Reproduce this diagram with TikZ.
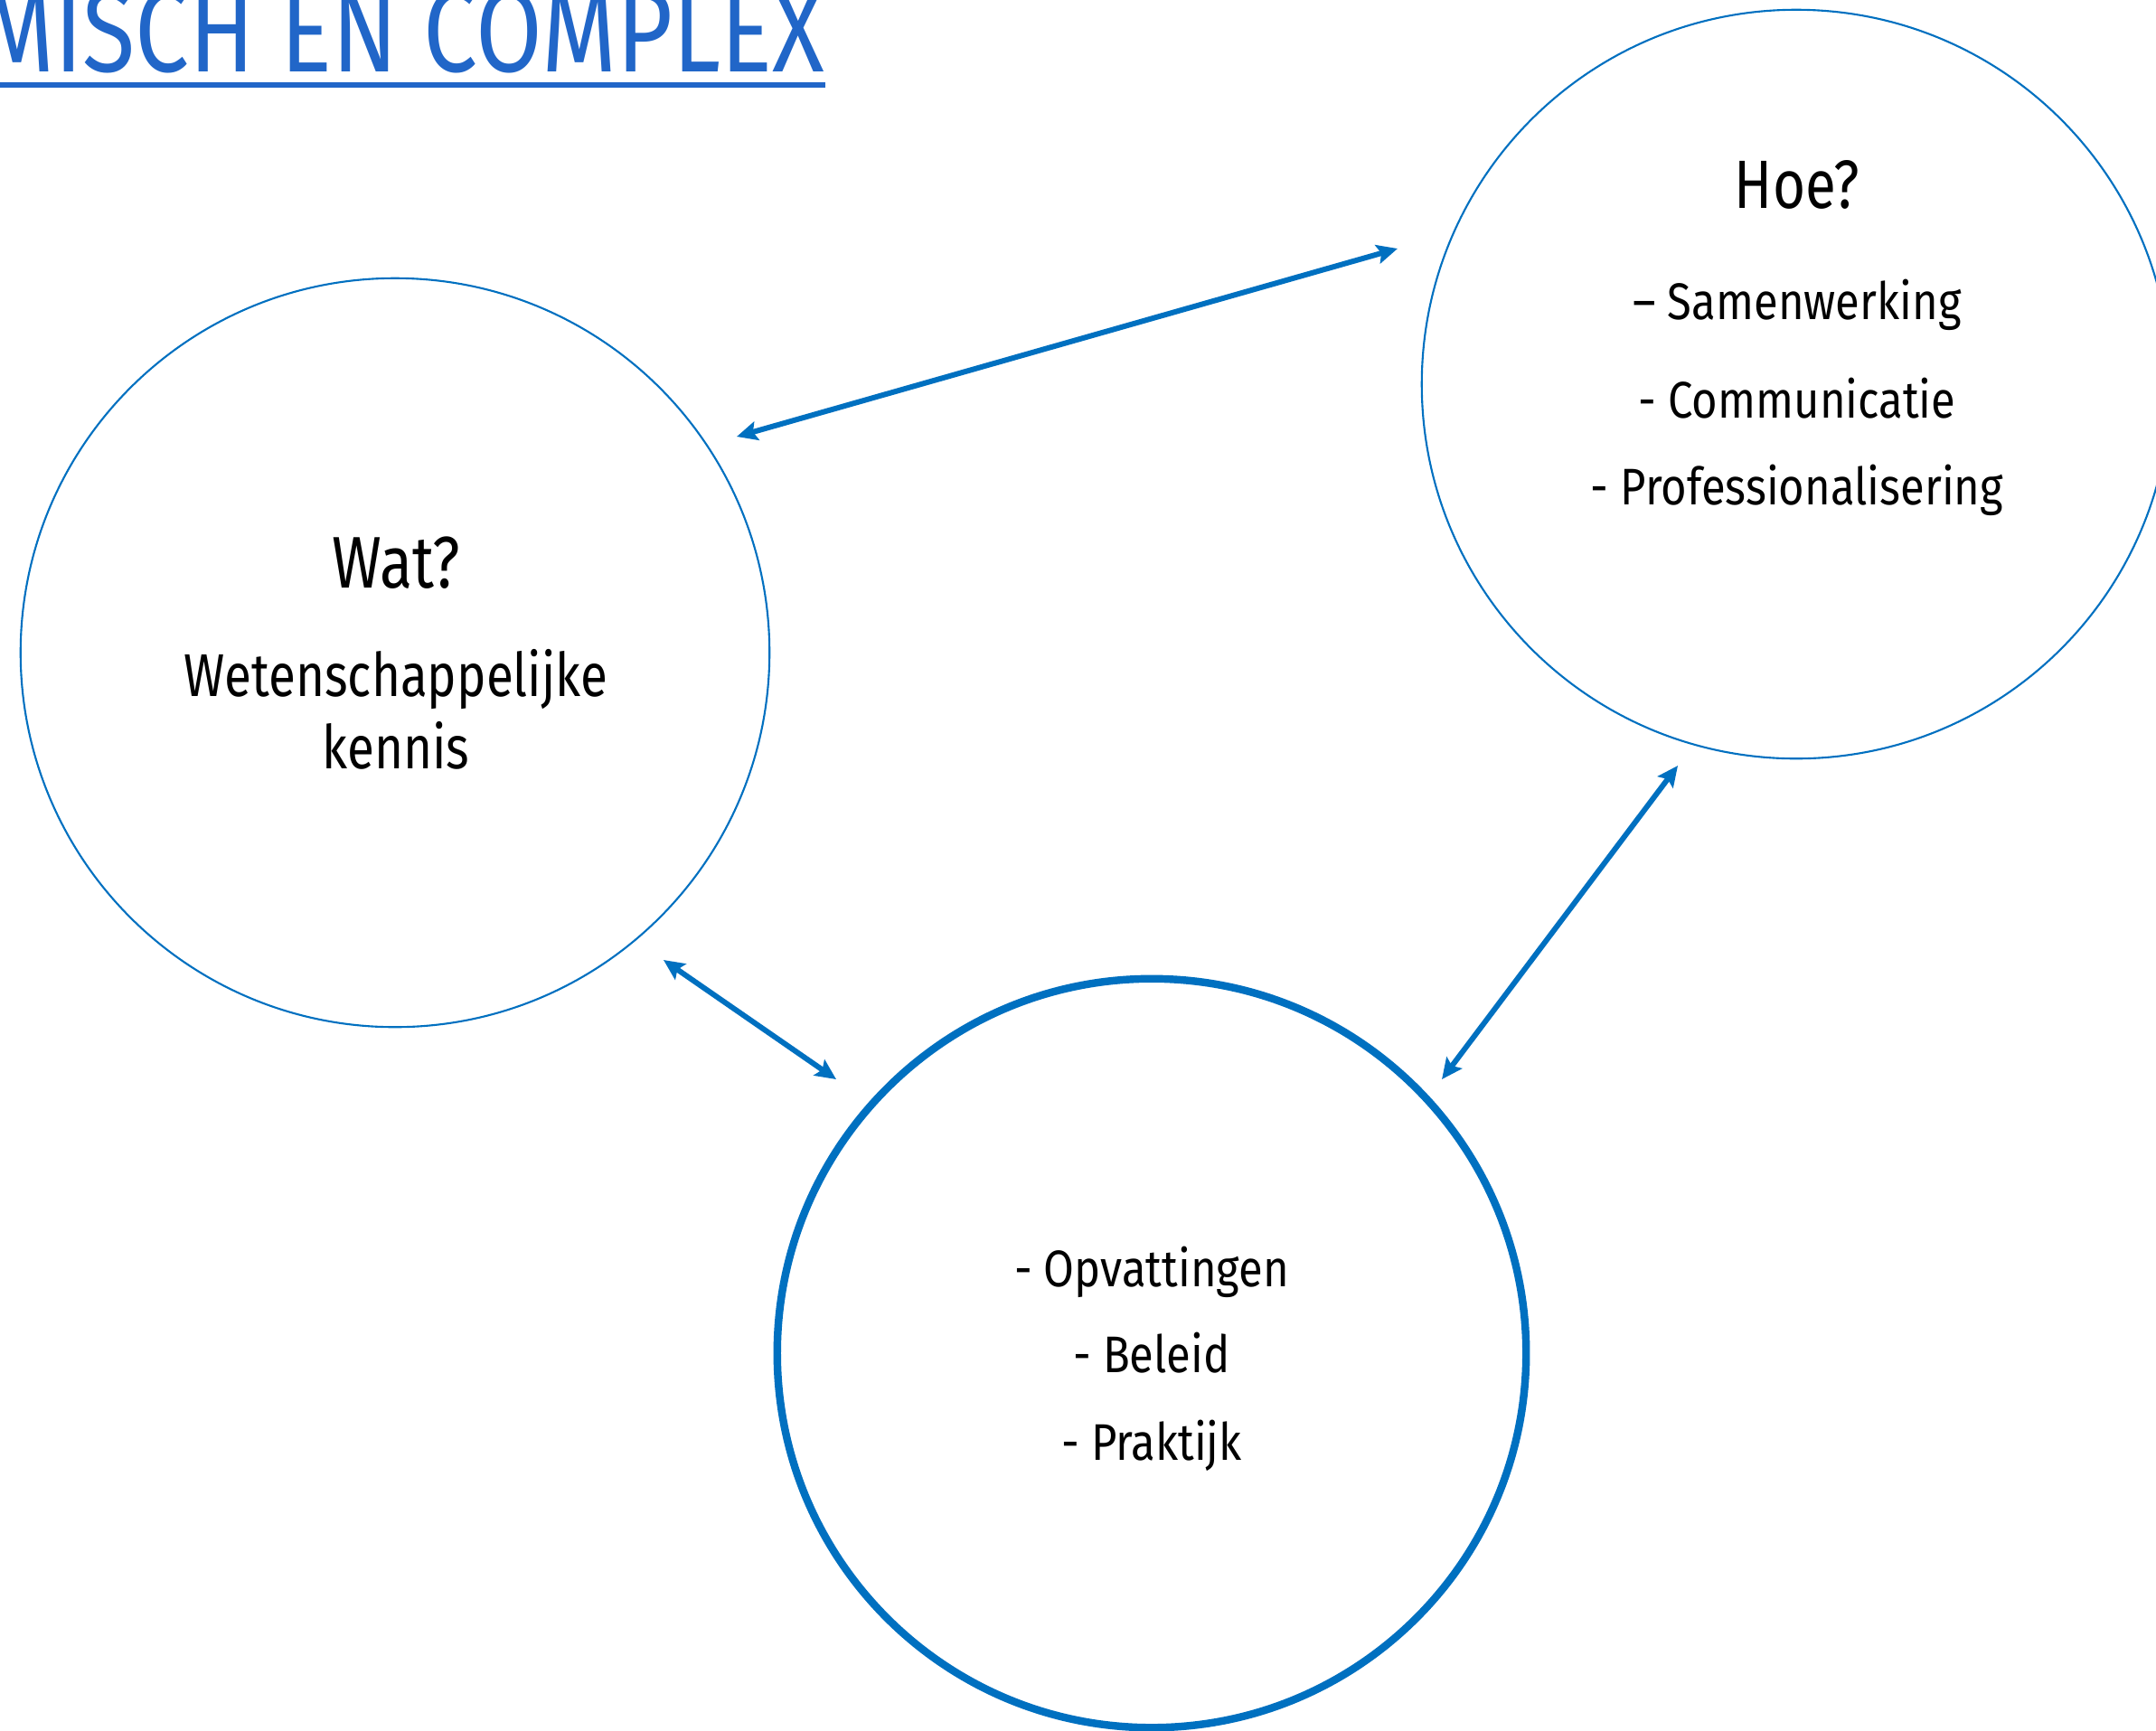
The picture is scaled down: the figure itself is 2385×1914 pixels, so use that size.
\documentclass[tikz,border=0pt]{standalone}
\usepackage{fontspec}
\setmainfont{Fira Sans}[FakeStretch=0.82]
\newfontfamily\puntfont{Fira Sans}[FakeStretch=0.86]
\usetikzlibrary{arrows.meta,positioning}
\definecolor{blauw}{HTML}{0070C0}
\definecolor{titelblauw}{HTML}{2166C8}

\begin{document}
\begin{tikzpicture}[x=0.01cm,y=-0.01cm,
		cirkel/.style={circle,draw=blauw,line width=0.6pt,inner sep=0pt,minimum size=8.28cm},
		dikcirkel/.style={circle,draw=blauw,line width=2.4pt,inner sep=0pt,minimum size=8.28cm},
		titel/.style={text=titelblauw,inner sep=0pt,font=\fontsize{37}{40}\selectfont},
		kop/.style={inner sep=0pt,anchor=base,font=\fontsize{23}{26}\selectfont},
		tekst/.style={inner sep=0pt,anchor=base,font=\fontsize{19}{22}\selectfont},
		punt/.style={inner sep=0pt,anchor=base,font=\puntfont\fontsize{16.2}{19}\selectfont},
		pijl/.style={blauw,line width=1.7pt,{Stealth[length=6.5pt,width=6pt,inset=1.2pt]}-{Stealth[length=6.5pt,width=6pt,inset=1.2pt]}}]
		\useasboundingbox (0,0) rectangle (2385,1914);

		% titel
		\node[titel,anchor=base east]	(titel)	at (913,79)	{MISCH EN COMPLEX};
		\draw[titelblauw,line width=1.7pt] (0,94) -- (913,94);

		% cirkels
		\node[cirkel]		(wat)		at (437,722)	{};
		\node[cirkel]		(hoe)		at (1987,425)	{};
		\node[dikcirkel]	(praktijk)	at (1274,1497)	{};

		% teksten
		\node[kop]		(watkop)	at (438,650)	{Wat?};
		\node[tekst]	(watw)		at (438,770)	{Wetenschappelijke};
		\node[tekst]	(watk)		at (438,850)	{kennis};

		\node[kop,font=\fontsize{21.5}{24}\selectfont]	(hoekop)	at (1988,230)	{Hoe?};
		\node[punt]		(hoe1)		at (1988,353)	{– Samenwerking};
		\node[punt]		(hoe2)		at (1988,462)	{- Communicatie};
		\node[punt]		(hoe3)		at (1988,558)	{- Professionalisering};

		\node[punt]		(prak1)		at (1274,1423)	{- Opvattingen};
		\node[punt]		(prak2)		at (1274,1518)	{- Beleid};
		\node[punt]		(prak3)		at (1274,1615)	{- Praktijk};

		% pijlen
		\coordinate (wathoe)	at (815,483);
		\coordinate (hoewat)	at (1546,275);
		\coordinate (watprak)	at (734,1062);
		\coordinate (prakwat)	at (925,1194);
		\coordinate (hoeprak)	at (1856,847);
		\coordinate (prakhoe)	at (1595,1194);

		\draw[pijl] (wathoe) -- (hoewat);
		\draw[pijl] (watprak) -- (prakwat);
		\draw[pijl] (hoeprak) -- (prakhoe);
	\end{tikzpicture}
\end{document}
